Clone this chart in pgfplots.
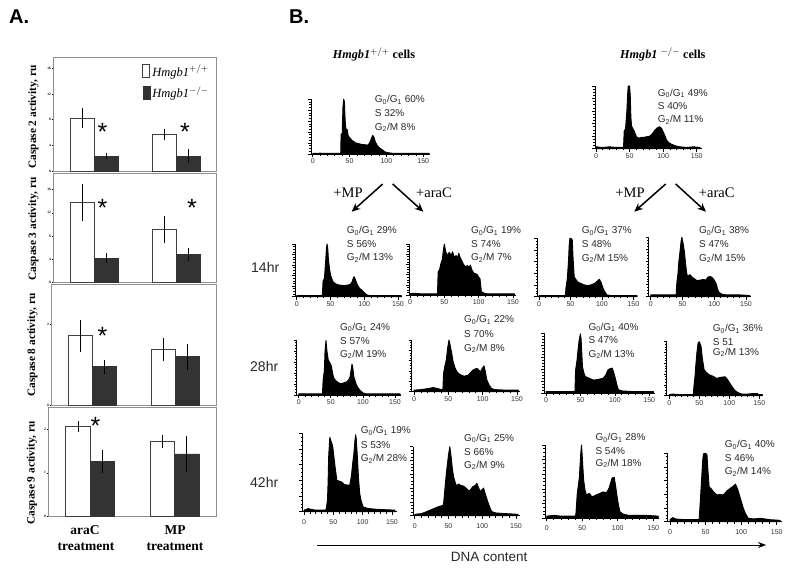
\documentclass[border=0pt]{standalone}
\usepackage{fontspec}
\setmainfont{Liberation Sans}
\newfontfamily\serif{Liberation Serif}
\usepackage{pgfplots}
\pgfplotsset{compat=1.18}
\usetikzlibrary{arrows.meta}
\definecolor{framegray}{HTML}{8F8F8F}
\definecolor{bardark}{HTML}{333333}
\definecolor{txtgray}{HTML}{2A2A2A}

\pgfplotsset{
  barax/.style={
    scale only axis, anchor=south west, ybar=0pt, axis line style={framegray,line width=0.9pt},
    xtick=\empty, ytick pos=left, tick style={black,line width=0.5pt}, tick align=outside,
    major tick length=1.5pt, clip=false,
    yticklabel style={font=\serif\bfseries\fontsize{3.5}{4}\selectfont,inner sep=0.5pt},
    /pgf/number format/assume math mode=true,
  },
  hist/.style={
    scale only axis, anchor=south west,
    axis x line*=bottom, axis y line*=left,
    axis line style={black,line width=0.8pt},
    xtick={0,50,100,150}, minor x tick num=4, ymin=0,ymax=100,
    ytick={0,20,40,60,80,100}, minor y tick num=3, yticklabels={},
    tick style={black,line width=0.7pt}, tick align=outside,
    major tick length=3pt, minor tick length=1.8pt,
    xticklabel style={font=\fontsize{7}{8}\selectfont,text=black!80,inner sep=0.5pt},
    /pgf/number format/assume math mode=true,
    clip=false,
  },
}
% hist: #1 y-axis px, #2 end px, #3 px of 0, #4 px of 150, #5 top px, #6 base px, #7 label shift (px below base), #8 coordinates
\newcommand{\hist}[8]{%
  \pgfmathsetmacro{\hw}{#2-#1}\pgfmathsetmacro{\hh}{#6-#5}\pgfmathsetmacro{\hy}{570-#6}%
  \pgfmathsetmacro{\hs}{(#4-#3)/150}%
  \pgfmathsetmacro{\hmin}{(#1-#3)/\hs}\pgfmathsetmacro{\hmax}{(#2-#3)/\hs}%
  \begin{axis}[hist,at={(#1pt,\hy pt)},width=\hw pt,height=\hh pt,xmin=\hmin,xmax=\hmax,
     xticklabel style={yshift=-#7pt}]
    \addplot[fill=black,draw=black,line width=0.9pt,line join=round] coordinates {#8} \closedcycle;
  \end{axis}%
}
% annotation: #1 x, #2..#4 y of lines, #5 G0/G1 text, #6 S text, #7 G2/M text
\newcommand{\ann}[7]{%
  \node[anchor=west,inner sep=0,font=\fontsize{10}{11}\selectfont,text=txtgray] at (#1pt,570pt-#2pt) {G$_{\mathrm{0}}$/G$_{\mathrm{1}}$ #5\%};
  \node[anchor=west,inner sep=0,font=\fontsize{10}{11}\selectfont,text=txtgray] at (#1pt,570pt-#3pt) {S #6};
  \node[anchor=west,inner sep=0,font=\fontsize{10}{11}\selectfont,text=txtgray] at (#1pt,570pt-#4pt) {G$_{\mathrm{2}}$/M #7\%};
}
\newcommand{\astk}[2]{\node[inner sep=0,font=\fontsize{25}{25}\selectfont] at (#1pt,570pt-#2pt-5pt) {*};}
\newcommand{\blk}[3]{\node[inner sep=0,font=\serif\bfseries\fontsize{13.5}{14}\selectfont] at (#1pt,570pt-#2pt) {#3};}
\newcommand{\ylab}[3]{\node[rotate=90,inner sep=0,font=\serif\bfseries\fontsize{11.3}{12}\selectfont] at (#1pt,570pt-#2pt) {Caspase #3 activity, ru};}
\newcommand{\arr}[4]{\draw[-{Stealth[length=8.5pt,width=7.5pt]},line width=1.5pt,black] (#1pt,570pt-#2pt) -- (#3pt,570pt-#4pt);}

\begin{document}
\begin{tikzpicture}[x=1pt,y=1pt]
\path[use as bounding box,fill=white] (0,0) rectangle (800pt,570pt);

% ---------- Panel A ----------
\begin{axis}[barax,at={(53pt,399pt)},width=163.7pt,height=114pt,xmin=-0.506,xmax=1.49,ymin=0,ymax=17.75,
  ytick={0,4,8,12,16},bar width=23.7pt,
  legend style={at={(0.545,0.95)},anchor=north west,draw=none,fill=none,inner sep=0pt,row sep=5pt,
     font=\serif\itshape\fontsize{12.5}{13}\selectfont,legend cell align=left},
  legend image code/.code={\draw[#1,error bars/.cd] (0pt,-6.5pt) rectangle (7pt,6.5pt);}]
\addplot[fill=white,draw=black!75,line width=0.9pt,error bars/.cd,y dir=both,y explicit,error bar style={black,line width=0.7pt},error mark=none]
  coordinates {(0,8.25) +- (0,1.5) (1,5.65) +- (0,0.9)};
\addplot[fill=bardark,draw=bardark,line width=0.6pt,error bars/.cd,y dir=both,y explicit,error bar style={black,line width=0.7pt},error mark=none]
  coordinates {(0,2.3) +- (0,0.5) (1,2.33) +- (0,1.05)};
\legend{Hmgb1$^{+/+}$,Hmgb1$^{-/-}$}
\end{axis}

\begin{axis}[barax,at={(53pt,288pt)},width=163.7pt,height=109pt,xmin=-0.506,xmax=1.49,ymin=0,ymax=18.9,
  ytick={0,4,8,12,16},bar width=23.7pt]
\addplot[fill=white,draw=black!75,line width=0.9pt,error bars/.cd,y dir=both,y explicit,error bar style={black,line width=0.7pt},error mark=none]
  coordinates {(0,13.75) +- (0,3.25) (1,9.07) +- (0,2.37)};
\addplot[fill=bardark,draw=bardark,line width=0.6pt,error bars/.cd,y dir=both,y explicit,error bar style={black,line width=0.7pt},error mark=none]
  coordinates {(0,4.15) +- (0,0.8) (1,4.8) +- (0,1.1)};
\end{axis}

\begin{axis}[barax,at={(51pt,164.7pt)},width=165.7pt,height=121.3pt,xmin=-0.497,xmax=1.5,ymin=0,ymax=2.99,
  ytick={0,2},bar width=24pt]
\addplot[fill=white,draw=black!75,line width=0.9pt,error bars/.cd,y dir=both,y explicit,error bar style={black,line width=0.7pt},error mark=none]
  coordinates {(0,1.71) +- (0,0.39) (1,1.38) +- (0,0.29)};
\addplot[fill=bardark,draw=bardark,line width=0.6pt,error bars/.cd,y dir=both,y explicit,error bar style={black,line width=0.7pt},error mark=none]
  coordinates {(0,0.95) +- (0,0.17) (1,1.2) +- (0,0.32)};
\end{axis}

\begin{axis}[barax,at={(48pt,53.3pt)},width=168.7pt,height=109.7pt,xmin=-0.5,xmax=1.5,ymin=0,ymax=2.5,
  ytick={0,1,2},bar width=24.3pt]
\addplot[fill=white,draw=black!75,line width=0.9pt,error bars/.cd,y dir=both,y explicit,error bar style={black,line width=0.7pt},error mark=none]
  coordinates {(0,2.06) +- (0,0.125) (1,1.71) +- (0,0.155)};
\addplot[fill=bardark,draw=bardark,line width=0.6pt,error bars/.cd,y dir=both,y explicit,error bar style={black,line width=0.7pt},error mark=none]
  coordinates {(0,1.26) +- (0,0.27) (1,1.43) +- (0,0.4)};
\end{axis}

\ylab{33.5}{117}{2}
\ylab{33.5}{229}{3}
\ylab{32.5}{345}{8}
\ylab{32}{473}{9}
\astk{102.5}{127}\astk{185}{127}
\astk{102.5}{203}\astk{192}{203}
\astk{102.5}{331}
\astk{95.5}{421}
\blk{85}{530}{araC}\blk{86}{547}{treatment}
\blk{175}{530}{MP}\blk{175}{547}{treatment}
\node[anchor=west,inner sep=0,font=\bfseries\fontsize{20}{20}\selectfont] at (9pt,570pt-17pt) {A.};
\node[anchor=west,inner sep=0,font=\bfseries\fontsize{20}{20}\selectfont] at (289pt,570pt-17pt) {B.};

% ---------- Panel B headers ----------
\node[anchor=west,inner sep=0,font=\serif\bfseries\fontsize{12.2}{13}\selectfont] at (332.7pt,570pt-54.3pt) {\textit{Hmgb1}$^{+/+}$ cells};
\node[anchor=west,inner sep=0,font=\serif\bfseries\fontsize{12.2}{13}\selectfont] at (620pt,570pt-54.3pt) {\textit{Hmgb1} $^{-/-}$ cells};

\arr{382.7}{184}{351.7}{211.7}
\arr{392.7}{184}{423.3}{211.7}
\arr{665.7}{184}{634.3}{211.7}
\arr{675.7}{184}{706}{211.7}
\node[inner sep=0,font=\serif\fontsize{14.5}{15}\selectfont] at (348pt,570pt-192.3pt) {+MP};
\node[inner sep=0,font=\serif\fontsize{14.5}{15}\selectfont] at (434pt,570pt-192.3pt) {+araC};
\node[inner sep=0,font=\serif\fontsize{14.5}{15}\selectfont] at (630pt,570pt-192.3pt) {+MP};
\node[inner sep=0,font=\serif\fontsize{14.5}{15}\selectfont] at (716.7pt,570pt-192.3pt) {+araC};

\node[anchor=west,inner sep=0,font=\fontsize{14}{15}\selectfont,text=txtgray] at (251pt,570pt-267.7pt) {14hr};
\node[anchor=west,inner sep=0,font=\fontsize{14}{15}\selectfont,text=txtgray] at (250pt,570pt-366.7pt) {28hr};
\node[anchor=west,inner sep=0,font=\fontsize{14}{15}\selectfont,text=txtgray] at (250pt,570pt-482.7pt) {42hr};

% ---------- Histograms ----------
\hist{311}{430}{312.7}{423.3}{99.3}{154}{1}{(0,1)(10,1.5)(20,1)(30,1)(37,1)(38,2)(38.5,36)(40,38)(41,85)(42,100)(43,96)(44,62)(45,46)(47,44)(48,34)(50,30)(52,27)(54,24)(56,23)(58,20)(60,20)(62,19)(65,18)(68,17)(71,17)(74,16)(76,18)(78,22)(80,30)(81.5,34)(83,31)(85,22)(87,17)(89,13)(92,10)(95,7)(98,4)(100,3)(104,2)(110,1)(130,1)(150,1)(158,1)}
\hist{595}{701.7}{596}{696.7}{86}{148.7}{1}{(0,3)(10,2)(20,3)(30,2)(40,2)(41,3)(42,28)(44,32)(46,60)(47,85)(48,100)(50,100)(51,85)(52,50)(53,36)(55,32)(57,28)(59,22)(61,18)(64,17)(68,18)(71,18)(75,19)(80,20)(84,24)(88,30)(91,33)(95,35)(98,32)(100,27)(103,20)(105,14)(108,10)(111,8)(115,6)(120,4)(125,3)(135,2)(145,3)(155,2)}
\hist{295}{400}{296.7}{398}{244}{296.7}{1}{(0,2)(20,2)(38,2)(39,30)(41,34)(43,70)(44,92)(45,100)(46,92)(47,70)(49,50)(50,42)(52,34)(54,28)(57,25)(60,23)(64,22)(70,21)(75,22)(79,23)(82,28)(84,36)(85,38)(87,32)(90,22)(93,16)(96,13)(99,9)(103,4)(108,2)(125,2)(155,2)}
\hist{409}{516}{410}{513}{244}{295.3}{1}{(0,3)(5,4)(15,3)(30,3)(40,3)(41,46)(43,50)(45,62)(47,70)(49,92)(50,100)(52,85)(53,82)(55,78)(57,84)(58,82)(60,78)(62,85)(64,76)(66,74)(67,78)(69,72)(71,82)(73,74)(76,66)(78,60)(81,56)(84,58)(86,54)(88,59)(90,50)(93,43)(96,42)(98,40)(100,36)(102,32)(104,7)(108,4)(112,3)(130,3)(152,3)}
\hist{537.3}{637.3}{539}{633.3}{238.3}{296.7}{1}{(0,2)(20,2)(42,2)(43,17)(45,30)(47,63)(48,88)(49,100)(51,100)(53,97)(54,70)(56,34)(59,29)(62,25)(66,23)(70,21)(76,19)(82,20)(89,23)(93,27)(96,30)(99,24)(102,14)(105,8)(108,3)(115,2)(135,2)(156,2)}
\hist{648.7}{750.7}{650.7}{746}{237.3}{296.7}{1}{(0,3)(20,3)(40,3)(41,22)(43,40)(44,56)(46,75)(48,95)(49,100)(51,90)(53,76)(55,55)(57,37)(59,35)(62,37)(65,33)(69,30)(73,27)(78,28)(83,29)(87,28)(90,33)(94,34)(97,32)(100,28)(103,22)(105,14)(107,8)(112,4)(120,3)(140,3)(156,2)}
\hist{296.7}{400.7}{298.7}{395}{340}{395}{1}{(0,2)(20,2)(37,2)(38,27)(40,45)(41,80)(42.5,99)(44,80)(46,64)(48,60)(50,55)(51,52)(53,38)(55,30)(58,26)(61,23)(64,21)(68,21)(72,23)(75,24)(78,28)(80,33)(82,48)(83,56)(84,52)(86,33)(88,25)(90,18)(93,12)(96,8)(100,4)(105,2)(125,2)(158,2)}
\hist{411.7}{520}{414}{517}{340}{391.7}{1}{(0,3)(10,4)(20,6)(28,8)(35,6)(42,3)(43,35)(45,50)(47,61)(49,85)(51,100)(53,88)(55,74)(57,58)(60,45)(63,38)(66,34)(69,32)(73,30)(79,32)(83,38)(86,42)(89,44)(92,45)(95,41)(97,39)(99,44)(102,50)(104,38)(106,23)(109,14)(113,6)(118,4)(135,3)(152,3)}
\hist{544}{655}{546}{649.3}{333.3}{393.3}{1}{(0,3)(20,3)(42,3)(43,39)(45,55)(46,67)(48,88)(50,99)(51,90)(53,44)(55,34)(57,28)(61,26)(65,24)(69,22)(75,23)(83,25)(87,31)(90,39)(93,41)(96,42)(98,36)(100,28)(103,14)(105,6)(110,4)(125,3)(156,3)}
\hist{666.7}{762.7}{669.3}{759.3}{341.7}{395.7}{1}{(0,2)(5,3)(20,2)(40,2)(41,17)(43,38)(44,54)(46,80)(48,98)(50,100)(53,91)(55,70)(58,48)(61,44)(65,40)(68,38)(73,36)(79,32)(85,34)(93,35)(97,30)(101,23)(105,16)(109,10)(114,6)(121,3)(130,3)(140,4)(146,4)(150,2)(155,2)}
\hist{302.3}{397.3}{304}{392}{433.3}{511.7}{4}{(0,2)(4,3)(7,4)(12,3)(20,2)(37,2)(38,4)(40,15)(41,36)(42,70)(44,95)(46,90)(48,86)(49,83)(51,70)(53,57)(55,46)(56,40)(60,39)(64,38)(68,35)(73,34)(78,34)(80,42)(81,47)(83,62)(85,74)(87,92)(88,98)(89,94)(91,70)(93,42)(95,23)(98,12)(101,6)(105,5)(110,4)(125,3)(155,2)}
\hist{413}{520}{414.7}{516}{446.7}{515.7}{4}{(0,2)(10,3)(18,6)(25,9)(35,13)(42,15)(43,20)(45,42)(47,63)(48,71)(50,88)(52,100)(54,85)(56,66)(58,55)(60,48)(62,43)(65,46)(68,44)(72,43)(76,40)(80,36)(82,37)(86,42)(90,44)(92,47)(94,42)(97,35)(100,38)(102,40)(105,30)(109,18)(112,10)(114,6)(120,4)(135,3)(153,2)}
\hist{545}{659.3}{546.7}{653.3}{445}{518.3}{4}{(0,3)(10,4)(20,3)(40,3)(41,5)(43,34)(45,48)(46,57)(48,90)(49,100)(50,85)(52,52)(54,38)(56,32)(60,34)(63,30)(66,30)(70,32)(75,34)(79,36)(83,35)(85,36)(88,42)(92,55)(95,56)(97,44)(99,30)(101,18)(103,9)(107,6)(115,4)(130,4)(140,4)(157,3)}
\hist{667.3}{782.3}{670}{776.7}{453.3}{521.7}{4}{(0,3)(4,6)(8,4)(20,3)(40,3)(41,4)(43,37)(44,55)(46,90)(47,99)(50,100)(52,98)(53,80)(55,51)(58,48)(61,44)(66,39)(70,40)(75,39)(80,45)(85,49)(89,52)(92,55)(95,48)(99,34)(103,20)(106,12)(110,5)(118,4)(127,5)(140,3)(155,2)}

% ---------- Annotations ----------
\ann{374.7}{100}{113.3}{127.3}{60}{32\%}{8}
\ann{657.7}{93.3}{106}{120}{49}{40\%}{11}
\ann{346.7}{230.7}{244.3}{257.7}{29}{56\%}{13}
\ann{471}{230.7}{244.3}{257.7}{19}{74\%}{7}
\ann{581.7}{230.7}{244}{258.3}{37}{48\%}{15}
\ann{699}{230.7}{244}{258.3}{38}{47\%}{15}
\ann{340}{327.3}{340.7}{354.3}{24}{57\%}{19}
\ann{464}{320}{334.3}{348.3}{22}{70\%}{8}
\ann{588.3}{327.3}{340}{354.3}{40}{47\%}{13}
\ann{712.7}{329}{342.3}{352.3}{36}{51}{13}
\ann{360.7}{431}{444.7}{458.7}{19}{53\%}{28}
\ann{464}{438.3}{451.7}{465.3}{25}{66\%}{9}
\ann{595.3}{437.7}{450.7}{463.3}{28}{54\%}{18}
\ann{724.7}{445}{457.7}{471.7}{40}{46\%}{14}

% ---------- DNA content ----------
\draw[-{Stealth[length=8pt,width=6pt]},line width=0.7pt,black] (317.3pt,25pt) -- (766pt,25pt);
\node[anchor=west,inner sep=0,font=\fontsize{13.5}{14}\selectfont,text=txtgray] at (450.7pt,570pt-557.3pt) {DNA content};
\end{tikzpicture}
\end{document}
